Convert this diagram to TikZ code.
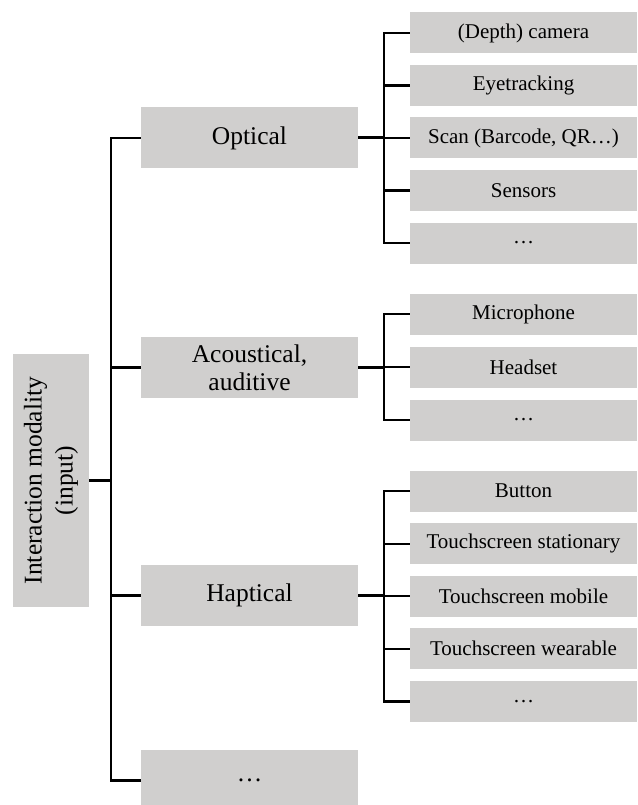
\documentclass[tikz,border=0pt]{standalone}
\usepackage{fontspec}
\setmainfont{Liberation Serif}
\definecolor{boxgray}{RGB}{208,207,206}
\tikzset{
  catbox/.style={fill=boxgray, inner sep=0pt, minimum width=217pt, minimum height=61pt,
    align=center, font=\fontsize{25.5}{28}\selectfont},
  leafbox/.style={fill=boxgray, inner sep=0pt, minimum width=227pt, minimum height=41pt,
    align=center, font=\fontsize{21}{24}\selectfont},
  rootbox/.style={fill=boxgray, inner sep=0pt, minimum width=253pt, minimum height=76pt,
    align=center, rotate=90, font=\fontsize{25.5}{31}\selectfont},
  link/.style={draw=black, line width=2.2pt},
  stub/.style={draw=black, line width=3pt}
}
\begin{document}
\begin{tikzpicture}[x=1pt, y=-1pt]
\useasboundingbox (0,0) rectangle (637,805);

% root
\node[rootbox] (root) at (51,480.5) {Interaction modality\\(input)};

% categories
\node[catbox] (opt)  at (249.5,138)   {Optical};
\node[catbox] (aco)  at (249.5,367.5) {Acoustical,\\auditive};
\node[catbox] (hap)  at (249.5,595.5) {Haptical};
\node[catbox] (more) at (249.5,780.5) {\dots};

% optical leaves
\node[leafbox] (o1) at (523.5,33)    {(Depth) camera};
\node[leafbox] (o2) at (523.5,85.5)  {Eyetracking};
\node[leafbox] (o3) at (523.5,138)   {Scan (Barcode, QR\dots)};
\node[leafbox] (o4) at (523.5,190.5) {Sensors};
\node[leafbox] (o5) at (523.5,243)   {\dots};

% acoustical leaves
\node[leafbox] (a1) at (523.5,314) {Microphone};
\node[leafbox] (a2) at (523.5,367) {Headset};
\node[leafbox] (a3) at (523.5,420) {\dots};

% haptical leaves
\node[leafbox] (h1) at (523.5,491)   {Button};
\node[leafbox] (h2) at (523.5,543.6) {Touchscreen stationary};
\node[leafbox] (h3) at (523.5,596.2) {Touchscreen mobile};
\node[leafbox] (h4) at (523.5,648.8) {Touchscreen wearable};
\node[leafbox] (h5) at (523.5,701.4) {\dots};

% trunk and branch columns
\coordinate (tk) at (111,0);
\coordinate (sx) at (384,0);

% main trunk
\draw[stub] (root.south) -- (root.south -| tk);
\draw[link] (opt.west) -- (opt.west -| tk) |- (more.west);
\draw[link] (aco.west) -- (aco.west -| tk);
\draw[link] (hap.west) -- (hap.west -| tk);

% optical branch
\draw[stub] (opt.east) -- (opt.east -| sx);
\draw[link] (o1.west) -- (o1.west -| sx) |- (o5.west);
\foreach \n in {o2,o3,o4} \draw[link] (\n.west) -- (\n.west -| sx);

% acoustical branch
\draw[stub] (aco.east) -- (aco.east -| sx);
\draw[link] (a1.west) -- (a1.west -| sx) |- (a3.west);
\draw[link] (a2.west) -- (a2.west -| sx);

% haptical branch
\draw[stub] (hap.east) -- (hap.east -| sx);
\draw[link] (h1.west) -- (h1.west -| sx) |- (h5.west);
\foreach \n in {h2,h3,h4} \draw[link] (\n.west) -- (\n.west -| sx);
\end{tikzpicture}
\end{document}
